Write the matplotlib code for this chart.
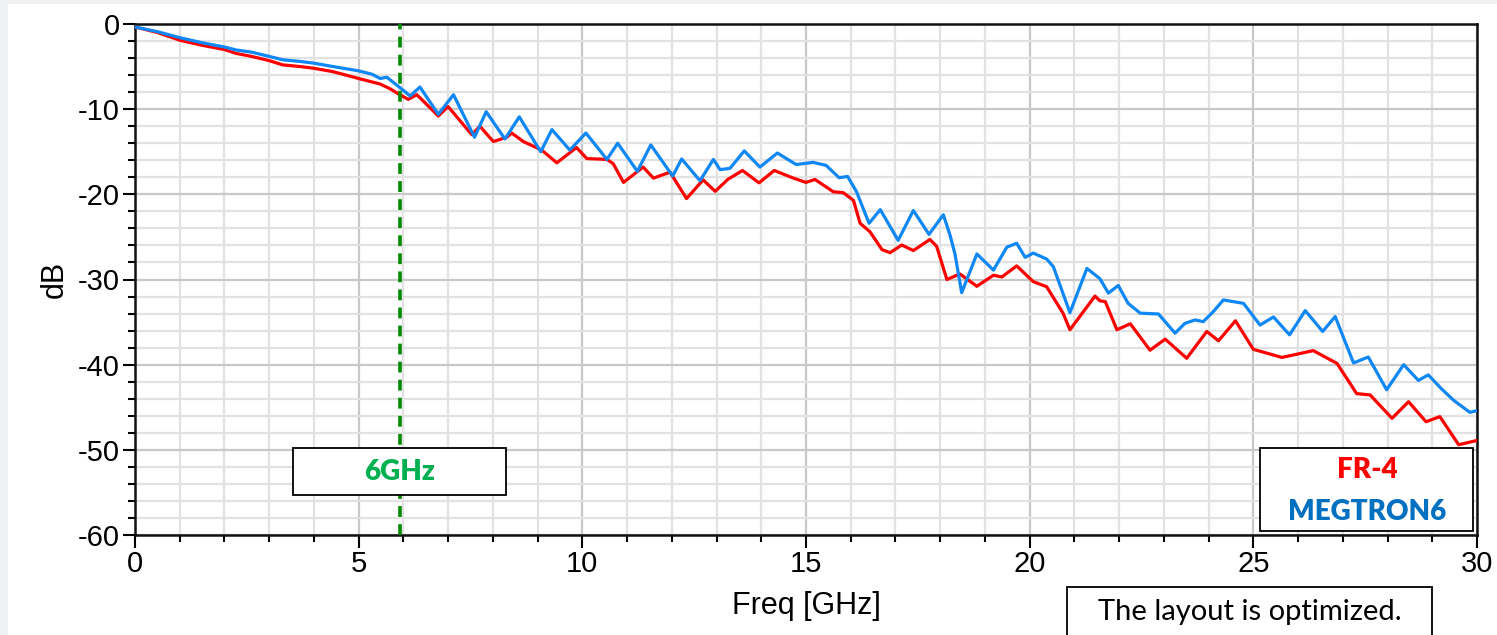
import matplotlib.pyplot as plt
from matplotlib.patches import Rectangle
from matplotlib.ticker import MultipleLocator

plt.rcParams['axes.unicode_minus'] = False

# MEGTRON6 (blue) - freq [GHz], dB
meg_f = [0.0, 0.5, 1.0, 1.5, 2.0, 2.26, 2.6, 3.0, 3.3, 3.7, 4.0, 4.43, 5.0, 5.3, 5.48, 5.63,
         5.93, 6.15, 6.37, 6.78, 7.12, 7.59, 7.85, 8.27, 8.59, 9.07, 9.32, 9.72, 10.08, 10.55,
         10.79, 11.23, 11.53, 12.02, 12.22, 12.63, 12.93, 13.08, 13.3, 13.62, 13.97, 14.36,
         14.78, 15.16, 15.45, 15.74, 15.93, 16.13, 16.41, 16.66, 17.06, 17.4, 17.75, 18.07,
         18.22, 18.33, 18.48, 18.82, 19.19, 19.49, 19.71, 19.9, 20.08, 20.38, 20.53, 20.9,
         21.28, 21.57, 21.76, 21.98, 22.2, 22.47, 22.88, 23.25, 23.47, 23.7, 23.88, 24.1,
         24.33, 24.78, 25.15, 25.45, 25.81, 26.16, 26.55, 26.83, 27.24, 27.57, 27.98, 28.36,
         28.69, 28.91, 29.2, 29.47, 29.84, 30.0]
meg_db = [-0.35, -0.9, -1.6, -2.2, -2.7, -3.05, -3.3, -3.8, -4.2, -4.4, -4.6, -5.0, -5.5, -5.9,
          -6.4, -6.25, -7.5, -8.45, -7.4, -10.6, -8.3, -13.3, -10.3, -13.5, -10.9, -15.0, -12.4,
          -14.8, -12.8, -15.9, -14.0, -17.3, -14.2, -17.85, -15.85, -18.4, -15.9, -17.1, -16.95,
          -14.9, -16.8, -15.15, -16.5, -16.25, -16.6, -18.05, -17.9, -19.7, -23.4, -21.8, -25.4,
          -21.9, -24.7, -22.4, -24.8, -27.0, -31.55, -27.0, -28.9, -26.2, -25.75, -27.4, -26.9,
          -27.6, -28.5, -33.9, -28.7, -29.9, -31.6, -30.7, -32.8, -33.95, -34.05, -36.3, -35.15,
          -34.75, -34.95, -33.8, -32.4, -32.8, -35.35, -34.4, -36.5, -33.65, -36.1, -34.35,
          -39.8, -39.1, -42.95, -40.0, -41.85, -41.2, -42.8, -44.15, -45.6, -45.4]

# FR-4 (red)
fr4_f = [0.0, 0.5, 1.0, 1.5, 2.0, 2.26, 2.6, 3.0, 3.3, 3.7, 4.0, 4.43, 5.0, 5.48, 5.7, 5.92,
         6.11, 6.3, 6.78, 7.0, 7.53, 7.71, 8.01, 8.31, 8.42, 8.68, 9.09, 9.43, 9.87, 10.1, 10.55,
         10.69, 10.92, 11.36, 11.59, 11.96, 12.33, 12.7, 12.97, 13.25, 13.58, 13.95, 14.29,
         14.72, 15.0, 15.2, 15.61, 15.83, 16.06, 16.21, 16.43, 16.7, 16.88, 17.14, 17.4, 17.77,
         17.92, 18.15, 18.44, 18.82, 19.19, 19.38, 19.71, 20.08, 20.38, 20.75, 20.9, 21.46,
         21.57, 21.69, 21.95, 22.25, 22.69, 23.03, 23.51, 23.96, 24.22, 24.6, 25.0, 25.64,
         26.34, 26.87, 27.31, 27.61, 28.1, 28.47, 28.86, 29.17, 29.59, 30.0]
fr4_db = [-0.35, -1.0, -1.9, -2.5, -3.0, -3.45, -3.8, -4.3, -4.8, -5.0, -5.2, -5.6, -6.4, -7.05,
          -7.6, -8.3, -8.85, -8.3, -10.8, -9.7, -13.0, -12.0, -13.8, -13.3, -12.8, -13.8, -14.8,
          -16.3, -14.5, -15.8, -15.9, -16.4, -18.6, -16.8, -18.1, -17.4, -20.5, -18.3, -19.65,
          -18.25, -17.2, -18.65, -17.2, -18.1, -18.6, -18.25, -19.7, -19.8, -20.7, -23.4, -24.4,
          -26.5, -26.85, -25.95, -26.6, -25.3, -26.1, -30.0, -29.35, -30.8, -29.5, -29.7, -28.4,
          -30.25, -30.85, -34.0, -35.9, -31.95, -32.5, -32.6, -35.9, -35.2, -38.3, -37.0, -39.25,
          -36.1, -37.2, -34.85, -38.2, -39.15, -38.35, -39.85, -43.4, -43.55, -46.3, -44.35,
          -46.7, -46.1, -49.4, -48.9]

marker_f = 5.93

W, H = 1497, 635
fig = plt.figure(figsize=(W / 100, H / 100), dpi=100)
fig.patch.set_facecolor('#eef0f2')
fig.patches.append(Rectangle((8 / W, 0), 1, 1 - 4 / H, transform=fig.transFigure,
                             facecolor='white', edgecolor='none', zorder=-5))

ax = fig.add_axes([135 / W, 1 - 535 / H, (1477 - 135) / W, (535 - 24) / H])
ax.set_zorder(1)
ax.set_xlim(0, 30)
ax.set_ylim(-60, 0)

ax.xaxis.set_major_locator(MultipleLocator(5))
ax.xaxis.set_minor_locator(MultipleLocator(1))
ax.yaxis.set_major_locator(MultipleLocator(10))
ax.yaxis.set_minor_locator(MultipleLocator(2))
ax.grid(which='major', color='#c8c8c8', lw=1.6)
ax.grid(which='minor', color='#e2e2e2', lw=1.6)
ax.set_axisbelow(True)

ax.plot(fr4_f, fr4_db, color='#ff0000', lw=2.3, zorder=3, solid_joinstyle='round')
ax.plot(meg_f, meg_db, color='#0f87f5', lw=2.3, zorder=4, solid_joinstyle='round')
ax.axvline(marker_f, color='#008a00', lw=2.6, ls=(0, (3, 2)), zorder=5)

for s in ax.spines.values():
    s.set_color('#111111')
    s.set_linewidth(1.8)

ax.tick_params(which='major', direction='out', length=9, width=1.5, labelsize=21,
               pad=2)
ax.tick_params(which='minor', direction='out', length=5, width=1.5)
for lab in ax.get_xticklabels() + ax.get_yticklabels():
    lab.set_family('Liberation Sans')

ax.set_xlabel('Freq [GHz]', fontsize=22, family='Liberation Sans', labelpad=9)
ax.set_ylabel('dB', fontsize=22, family='Liberation Sans', labelpad=6)

# "6GHz" box
ax.add_patch(Rectangle((3.53, -55.3), 4.76, 5.5, facecolor='white', edgecolor='black',
                       lw=1.3, zorder=6))
ax.text(5.92, -52.55, '6GHz', color='#00b050', fontsize=20, fontweight='heavy',
        family='Lato', ha='center', va='center', zorder=7)

# legend box
ax.add_patch(Rectangle((25.15, -59.5), 4.77, 9.7, facecolor='white', edgecolor='black',
                       lw=1.3, zorder=6))
ax.text(27.55, -52.4, 'FR-4', color='#ff0000', fontsize=20, fontweight='heavy',
        family='Lato', ha='center', va='center', zorder=7)
ax.text(27.55, -57.3, 'MEGTRON6', color='#0070c0', fontsize=20, fontweight='heavy',
        family='Lato', ha='center', va='center', zorder=7)

# bottom note
fig.patches.append(Rectangle((1067 / W, -0.01), (1432 - 1067) / W, (635 - 587) / H + 0.01,
                             transform=fig.transFigure, facecolor='white',
                             edgecolor='black', lw=1.3, zorder=6))
fig.text((1067 + 1432) / 2 / W, 1 - 612 / H, 'The layout is optimized.', fontsize=21,
         family='Lato', ha='center', va='center', zorder=7)

fig.savefig('out.png', dpi=100)
